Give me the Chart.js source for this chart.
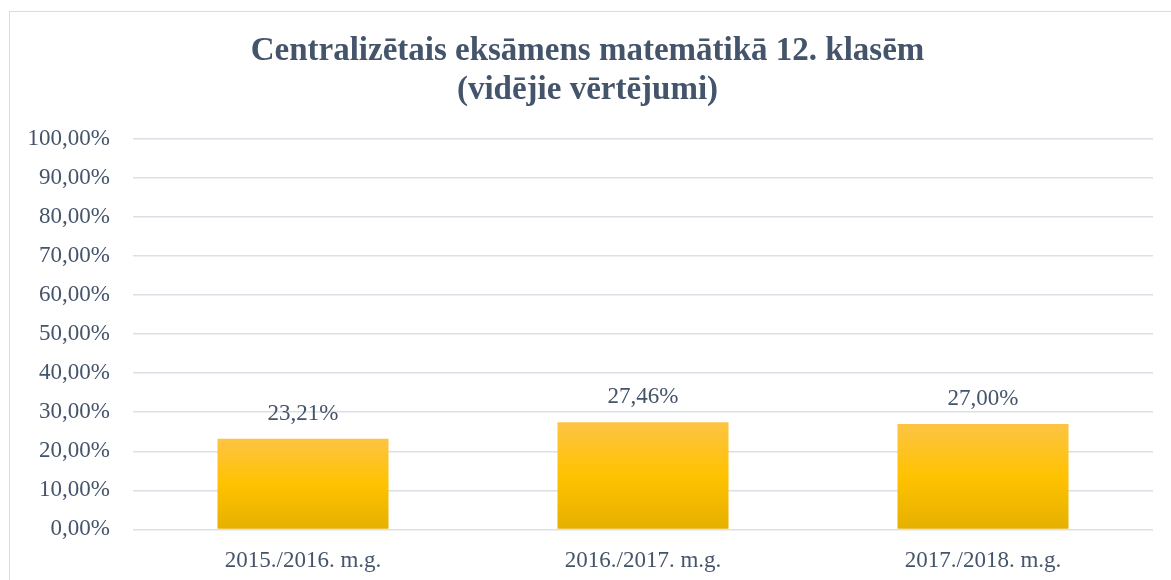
<!DOCTYPE html>
<html>
<head>
<meta charset="utf-8">
<script src="https://cdn.jsdelivr.net/npm/chart.js@4/dist/chart.umd.min.js"></script>
<style>
  html, body { margin: 0; padding: 0; background: #ffffff; overflow: hidden; }
  #wrap { position: relative; width: 1171px; height: 580px; }
  #frame { position: absolute; left: 9px; top: 11px; width: 1200px; height: 620px; border: 1.5px solid #D9DDE3; pointer-events: none; }
  canvas { position: absolute; left: 0; top: 0; }
</style>
</head>
<body>
<div id="wrap">
  <div id="frame"></div>
  <canvas id="examChart" width="1171" height="580"></canvas>
</div>
<script>
// 資料
const years = ['2015./2016. m.g.', '2016./2017. m.g.', '2017./2018. m.g.'];
const avgScores = [23.21, 27.46, 27.00];
const titleLines = ['Centralizētais eksāmens matemātikā 12. klasēm', '(vidējie vērtējumi)'];

const textColor = '#44546A';
const serif = '"Liberation Serif", "Times New Roman", serif';

// 數字格式：23,21%
function fmtPct(v) {
  return v.toFixed(2).replace('.', ',') + '%';
}

// 每個長條的漸層
function barGradient(context) {
  const chart = context.chart;
  const area = chart.chartArea;
  if (!area || context.parsed === undefined) {
    return '#FFC000';
  }
  const yScale = chart.scales.y;
  const top = yScale.getPixelForValue(context.parsed.y);
  const bottom = yScale.getPixelForValue(0);
  const g = chart.ctx.createLinearGradient(0, top, 0, bottom);
  g.addColorStop(0, '#FDC444');
  g.addColorStop(0.5, '#FFC200');
  g.addColorStop(1, '#E6B000');
  return g;
}

// 長條上方的數值標籤
const valueLabels = {
  id: 'valueLabels',
  afterDatasetsDraw(chart) {
    const ctx = chart.ctx;
    const meta = chart.getDatasetMeta(0);
    ctx.save();
    ctx.font = '23px ' + serif;
    ctx.fillStyle = textColor;
    ctx.textAlign = 'center';
    ctx.textBaseline = 'middle';
    meta.data.forEach(function(bar, i) {
      ctx.fillText(fmtPct(avgScores[i]), bar.x, bar.y - 25);
    });
    ctx.restore();
  }
};

const ctxExam = document.getElementById('examChart').getContext('2d');
const examChart = new Chart(ctxExam, {
  type: 'bar',
  data: {
    labels: years,
    datasets: [{
      data: avgScores,
      backgroundColor: barGradient,
      borderWidth: 0,
      categoryPercentage: 1,
      barPercentage: 0.503
    }]
  },
  options: {
    responsive: false,
    animation: false,
    layout: { padding: { left: 22, right: 18, top: 10, bottom: -5 } },
    plugins: {
      legend: { display: false },
      tooltip: { enabled: false },
      title: {
        display: true,
        text: titleLines,
        color: textColor,
        font: { family: serif, size: 33, weight: 'bold', lineHeight: 1.18 },
        padding: { top: 22, bottom: 29 }
      }
    },
    scales: {
      x: {
        grid: { display: false },
        border: { display: false },
        ticks: { color: textColor, font: { family: serif, size: 23 }, padding: 10 }
      },
      y: {
        min: 0,
        max: 100,
        afterFit: function(scale) { scale.width = 111; },
        grid: { color: '#DCE0E6', lineWidth: 1.5, drawTicks: false },
        border: { display: false },
        ticks: {
          stepSize: 10,
          color: textColor,
          font: { family: serif, size: 23 },
          padding: 23,
          callback: function(v) { return fmtPct(v); }
        }
      }
    }
  },
  plugins: [valueLabels]
});
</script>
</body>
</html>
